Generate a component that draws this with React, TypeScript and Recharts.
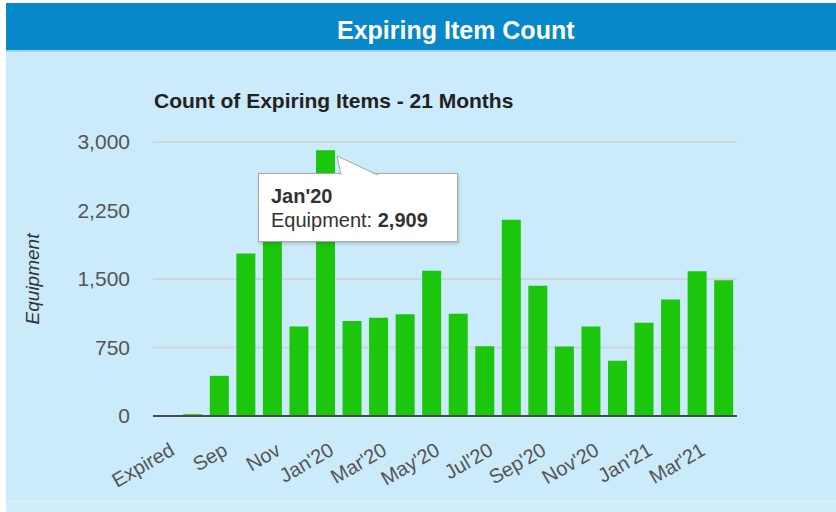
import React from "react";
import { Bar, BarChart, CartesianGrid, Label, Tooltip, XAxis, YAxis } from "recharts";

const months = [
  "Expired", "Aug", "Sep", "Oct", "Nov", "Dec",
  "Jan'20", "Feb'20", "Mar'20", "Apr'20", "May'20", "Jun'20",
  "Jul'20", "Aug'20", "Sep'20", "Oct'20", "Nov'20", "Dec'20",
  "Jan'21", "Feb'21", "Mar'21", "Apr'21",
];
const equipment = [
  0, 20, 440, 1780, 1990, 980,
  2909, 1040, 1075, 1115, 1590, 1120,
  765, 2150, 1425, 760, 980, 605,
  1020, 1275, 1585, 1485,
];
const yTicks = [0, 750, 1500, 2250, 3000];
const gridLines = [750, 1500, 3000];

const data = months.map((m, i) => ({ month: m, value: equipment[i] }));

const FONT = "'Liberation Sans', Arial, sans-serif";
const BAR = "#1cc60c";

function XTick({ x, y, payload }: any) {
  return (
    <g transform={`translate(${x + 2},${y})`}>
      <text x={0} y={0} dy={15} textAnchor="end" transform="rotate(-30)" fill="#555" fontSize={20} fontFamily={FONT}>
        {payload.value}
      </text>
    </g>
  );
}

function TipBox({ active, payload }: any) {
  if (!active || !payload || !payload.length) return null;
  const p = payload[0];
  return (
    <div
      style={{
        position: "relative",
        width: 200,
        height: 69,
        boxSizing: "border-box",
        background: "#fff",
        border: "1px solid #a8a8a8",
        boxShadow: "1px 2px 3px rgba(0,0,0,0.18)",
        padding: "10px 12px 0",
        fontFamily: FONT,
        color: "#333",
        fontSize: 20,
        lineHeight: "24px",
      }}
    >
      <svg width={200} height={22} style={{ position: "absolute", left: -1, top: -20, overflow: "visible" }}>
        <polygon points="79,2 83,22 120,22" fill="#fff" />
        <polyline points="83,21 79,2 120,21" fill="none" stroke="#a8a8a8" strokeWidth={1} />
      </svg>
      <div style={{ fontWeight: "bold" }}>{p.payload.month}</div>
      <div>
        Equipment: <b>{p.value.toLocaleString("en-US")}</b>
      </div>
    </div>
  );
}

export default function App() {
  return (
    <div style={{ position: "fixed", left: 0, top: 0, width: 836, height: 512, background: "#fff", fontFamily: FONT }}>
      <div style={{ position: "absolute", left: 6, top: 3, width: 830, height: 509, background: "#cbeafa" }} />
      <div style={{ position: "absolute", left: 6, top: 500, width: 830, height: 12, background: "#d3eefb" }} />
      <div style={{ position: "absolute", left: 6, top: 3, width: 830, height: 47, background: "#0688c9" }} />
      <div style={{ position: "absolute", left: 6, top: 50, width: 830, height: 2, background: "#9fd3ee" }} />
      <div
        style={{
          position: "absolute",
          left: 337,
          top: 16,
          color: "#fff",
          fontSize: 25,
          fontWeight: "bold",
          whiteSpace: "nowrap",
        }}
      >
        Expiring Item Count
      </div>
      <div
        style={{
          position: "absolute",
          left: 154,
          top: 89,
          color: "#222",
          fontSize: 21,
          fontWeight: "bold",
          whiteSpace: "nowrap",
        }}
      >
        Count of Expiring Items - 21 Months
      </div>
      <div style={{ position: "absolute", left: 0, top: 0 }}>
        <BarChart
          width={836}
          height={512}
          data={data}
          margin={{ top: 142, right: 99, bottom: 0, left: 0 }}
          barCategoryGap="14%"
        >
          <CartesianGrid vertical={false} horizontalValues={gridLines} stroke="#cfd6d9" strokeWidth={2} />
          <XAxis
            dataKey="month"
            interval={1}
            height={96}
            tickLine={false}
            tickSize={6}
            tickMargin={19}
            axisLine={{ stroke: "#4a4a4a", strokeWidth: 2 }}
            tick={<XTick />}
          />
          <YAxis
            width={153}
            domain={[0, 3000]}
            ticks={yTicks}
            axisLine={false}
            tickLine={false}
            tickSize={6}
            tickMargin={17}
            tick={{ fill: "#555", fontSize: 21, fontFamily: FONT }}
            tickFormatter={(v: number) => v.toLocaleString("en-US")}
          >
            <Label
              value="Equipment"
              angle={-90}
              position="insideLeft"
              offset={32}
              style={{ fill: "#333", fontSize: 19, fontStyle: "italic", fontFamily: FONT, textAnchor: "middle" }}
            />
          </YAxis>
          <Tooltip
            active
            defaultIndex={6}
            cursor={false}
            position={{ x: 258, y: 173 }}
            isAnimationActive={false}
            content={<TipBox />}
            wrapperStyle={{ outline: "none" }}
          />
          <Bar dataKey="value" fill={BAR} isAnimationActive={false} />
        </BarChart>
      </div>
    </div>
  );
}
